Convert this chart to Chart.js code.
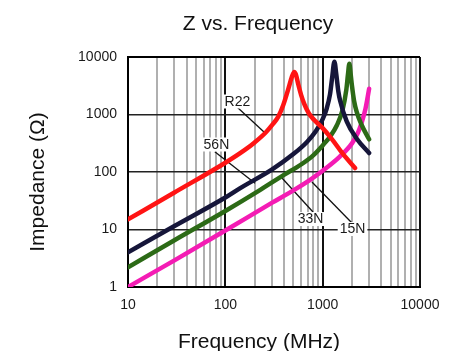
<!DOCTYPE html>
<html>
<head>
<meta charset="utf-8">
<script src="https://cdn.jsdelivr.net/npm/chart.js@4.4.1/dist/chart.umd.min.js"></script>
<style>
  html, body { margin: 0; padding: 0; background: #fff; }
</style>
</head>
<body>
<canvas id="chartZ" width="456" height="351"></canvas>
<script>
// Impedance curves, frequency in MHz, impedance in Ohm
const freqR22 = [10, 30, 100, 160, 200, 260, 309, 350, 393, 444, 480, 510, 530, 560, 600, 650, 720, 820, 1000, 1250, 1600, 2150];
const zR22    = [15, 44, 145, 245, 327, 487, 685, 920, 1450, 2800, 4400, 5500, 5000, 3400, 2200, 1500, 1050, 800, 580, 370, 210, 117];

const freq56N = [10, 30, 100, 141, 300, 500, 686, 850, 1000, 1100, 1190, 1250, 1320, 1380, 1450, 1510, 1766, 2240, 3000];
const z56N    = [4, 11.5, 36, 52, 110, 205, 330, 510, 830, 1270, 2250, 4300, 8300, 5000, 2500, 1750, 760, 380, 214];

const freq33N = [10, 30, 100, 220, 400, 600, 800, 1000, 1200, 1400, 1600, 1750, 1820, 1880, 1940, 2000, 2100, 2240, 2500, 3000];
const z33N    = [2.2, 6.5, 21, 47, 89, 135, 195, 290, 420, 650, 1200, 2700, 5000, 7600, 5000, 3150, 1750, 1100, 670, 370];

const freq15N = [10, 30, 100, 300, 500, 750, 1000, 1500, 2000, 2300, 2500, 2750, 3000];
const z15N    = [1.0, 2.9, 9.6, 29, 48, 74, 105, 185, 315, 480, 700, 1250, 2800];

const seriesNames  = ['R22', '56N', '33N', '15N'];
const seriesColors = ['#ff1414', '#16163a', '#2c6a16', '#f41cb4'];

// axis ticks
const xDecades   = [10, 100, 1000, 10000];
const yDecades   = [1, 10, 100, 1000, 10000];
const minorSteps = [2, 3, 4, 5, 6, 7, 8, 9];

// callout labels, in data coordinates: text centre, leader start, leader end
const callouts = [
  { name: 'R22', text: [133, 1683], from: [131, 1367], to: [256, 477] },
  { name: '56N', text: [81, 301],   from: [78, 225],   to: [202, 63.6] },
  { name: '33N', text: [750, 15.2], from: [796, 20.2], to: [382, 78.7] },
  { name: '15N', text: [2027, 10.2], from: [2000, 13], to: [776, 67] }
];

const FONT = "'Liberation Sans', Arial, sans-serif";

function pts(fs, zs) {
  return fs.map((f, i) => ({ x: f, y: zs[i] }));
}

const xTickValues = [];
xDecades.forEach((d, i) => {
  xTickValues.push(d);
  if (i < xDecades.length - 1) minorSteps.forEach(m => xTickValues.push(d * m));
});

const calloutPlugin = {
  id: 'callouts',
  beforeDatasetsDraw(chart) {
    const { ctx, scales: { x, y } } = chart;
    ctx.save();
    ctx.strokeStyle = '#111';
    ctx.lineWidth = 1.3;
    callouts.forEach(c => {
      ctx.beginPath();
      ctx.moveTo(x.getPixelForValue(c.from[0]), y.getPixelForValue(c.from[1]));
      ctx.lineTo(x.getPixelForValue(c.to[0]), y.getPixelForValue(c.to[1]));
      ctx.stroke();
    });
    ctx.font = '14px ' + FONT;
    ctx.textAlign = 'center';
    ctx.textBaseline = 'middle';
    callouts.forEach(c => {
      const px = x.getPixelForValue(c.text[0]);
      const py = y.getPixelForValue(c.text[1]);
      const w = ctx.measureText(c.name).width + 4;
      ctx.fillStyle = '#fff';
      ctx.fillRect(px - w / 2, py - 7, w, 14);
      ctx.fillStyle = '#1a1a1a';
      ctx.fillText(c.name, px, py + 0.5);
    });
    ctx.restore();
  },
  afterDraw(chart) {
    const ctx = chart.ctx;
    ctx.save();
    ctx.fillStyle = '#111';
    ctx.font = '21px ' + FONT;
    ctx.textAlign = 'center';
    ctx.textBaseline = 'alphabetic';
    ctx.fillText('Z vs. Frequency', 258, 30);
    ctx.fillText('Frequency (MHz)', 259, 348);
    ctx.translate(44, 182);
    ctx.rotate(-Math.PI / 2);
    ctx.fillText('Impedance (\u03A9)', 0, 0);
    ctx.restore();
  }
};

const lines = [
  [freqR22, zR22], [freq56N, z56N], [freq33N, z33N], [freq15N, z15N]
];

new Chart(document.getElementById('chartZ'), {
  type: 'line',
  data: {
    datasets: lines.map((s, i) => ({
      label: seriesNames[i],
      data: pts(s[0], s[1]),
      borderColor: seriesColors[i],
      backgroundColor: seriesColors[i],
      borderWidth: 4.5,
      pointRadius: 0,
      fill: false,
      cubicInterpolationMode: 'monotone',
      borderCapStyle: 'round',
      borderJoinStyle: 'round'
    }))
  },
  options: {
    responsive: false,
    animation: false,
    devicePixelRatio: 1,
    layout: { padding: { top: 57, right: 36, bottom: 0, left: 0 } },
    plugins: {
      legend: { display: false },
      title: { display: false },
      tooltip: { enabled: false }
    },
    scales: {
      x: {
        type: 'logarithmic',
        min: 10,
        max: 10000,
        afterBuildTicks: scale => {
          scale.ticks = xTickValues.map(v => ({ value: v, major: xDecades.includes(v) }));
        },
        afterFit: scale => { scale.height = 64; },
        ticks: {
          autoSkip: false,
          maxRotation: 0,
          padding: 10,
          color: '#1a1a1a',
          font: { family: FONT, size: 14 },
          callback: v => xDecades.includes(v) ? String(v) : ''
        },
        grid: {
          drawTicks: false,
          color: ctx => xDecades.includes(ctx.tick.value) ? '#111' : '#b0b0b0',
          lineWidth: 2
        },
        border: { display: true, color: '#000', width: 2 }
      },
      y: {
        type: 'logarithmic',
        min: 1,
        max: 10000,
        afterBuildTicks: scale => {
          scale.ticks = yDecades.map(v => ({ value: v, major: true }));
        },
        afterFit: scale => { scale.width = 128; },
        ticks: {
          autoSkip: false,
          padding: 11,
          color: '#1a1a1a',
          font: { family: FONT, size: 14 },
          callback: v => String(v)
        },
        grid: {
          drawTicks: false,
          color: ctx => (ctx.tick.value === 10000 ? '#000' : '#222'),
          lineWidth: ctx => (ctx.tick.value === 10000 ? 2 : 1.5)
        },
        border: { display: true, color: '#000', width: 2 }
      }
    }
  },
  plugins: [calloutPlugin]
});
</script>
</body>
</html>
